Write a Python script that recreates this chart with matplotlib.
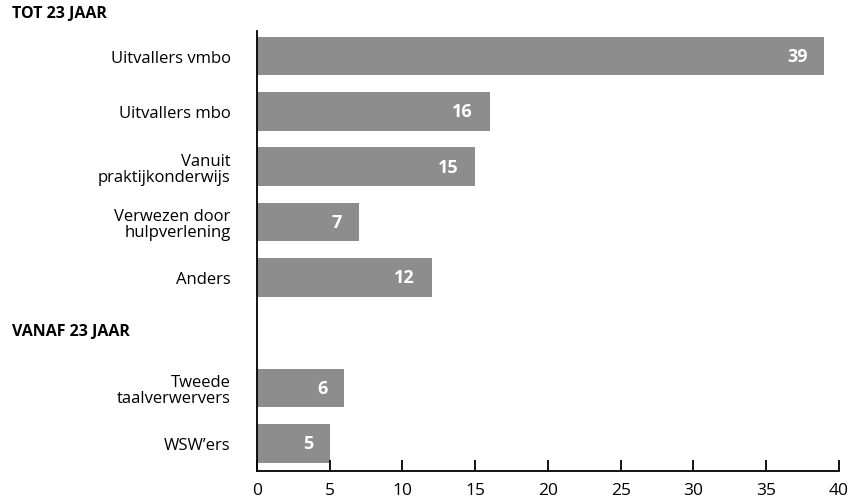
import matplotlib
matplotlib.use("Agg")
import matplotlib.pyplot as plt

plt.rcParams['font.family'] = ['Open Sans', 'DejaVu Sans']

# data
labels = ["Uitvallers vmbo", "Uitvallers mbo", "Vanuit\npraktijkonderwijs",
          "Verwezen door\nhulpverlening", "Anders",
          "Tweede\ntaalverwervers", "WSW\u2019ers"]
values = [39, 16, 15, 7, 12, 6, 5]
positions = [0, 1, 2, 3, 4, 6, 7]
groups = ["TOT 23 JAAR", "VANAF 23 JAAR"]
xticks = [0, 5, 10, 15, 20, 25, 30, 35, 40]

fig = plt.figure(figsize=(8.49, 5.02), dpi=100)
ax = fig.add_axes([0.3027, 0.060, 0.6855, 0.876])

ax.barh(positions, values, height=0.7, color="#8d8d8d")
for p, v in zip(positions, values):
    ax.annotate(str(v), xy=(v, p), xytext=(-12, 0), textcoords="offset points",
                color="white", fontweight="bold", fontsize=13,
                ha="right", va="center")

ax.set_yticks(positions)
ax.set_yticklabels(labels, fontsize=12, linespacing=1.0)
ax.tick_params(axis="y", length=0, pad=19)
ax.set_ylim(7.5, -0.45)

ax.set_xlim(0, 40)
ax.set_xticks(xticks)
ax.tick_params(axis="x", direction="in", length=8, width=1.3, labelsize=12.5, pad=8)

for s in ["top", "right"]:
    ax.spines[s].set_visible(False)
ax.spines["left"].set_linewidth(1.3)
ax.spines["bottom"].set_linewidth(1.3)

fig.text(12 / 849, 1 - 14 / 502, groups[0], fontsize=11.5, fontweight="bold",
         va="center", ha="left")
fig.text(12 / 849, 1 - 332 / 502, groups[1], fontsize=11.5, fontweight="bold",
         va="center", ha="left")

fig.savefig("out.png", dpi=100)
